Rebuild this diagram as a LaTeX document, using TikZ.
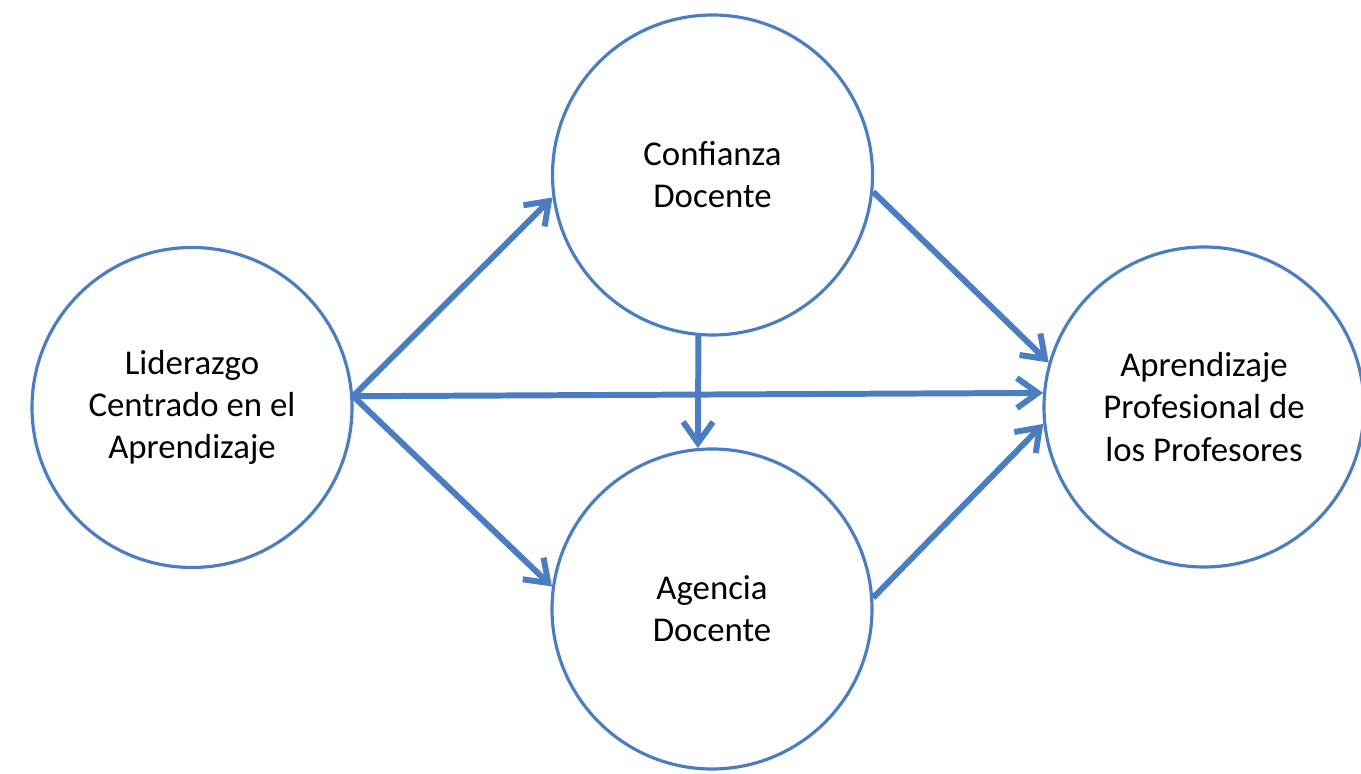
\documentclass[tikz,border=0pt]{standalone}
\usepackage{fontspec}
\setmainfont{Carlito}
\usepackage{xcolor}
\usepackage{tikz}
\usetikzlibrary{positioning,calc,arrows.meta}
\definecolor{lineblue}{RGB}{74,126,192}

\begin{document}
\begin{tikzpicture}[circ/.style={circle, draw=lineblue, line width=1.8pt, minimum size=6.4cm, inner sep=0pt, align=center, font=\fontsize{19.8}{24}\selectfont},
    arr/.style={draw=lineblue, line width=3.4pt, -{Straight Barb[length=0.42cm, width=0.6cm]}}]
    \useasboundingbox (0,0) rectangle (27.22,15.48);
    \node [circ] (lid) at (3.84,7.33) {Liderazgo\\Centrado en el\\Aprendizaje};
    \node [circ] (conf) at (14.25,11.98) {Confianza\\Docente};
    \node [circ] (agen) at (14.24,3.30) {Agencia\\Docente};
    \node [circ] (apr) at (24.08,7.34) {Aprendizaje\\Profesional de\\los Profesores};

    \draw [arr] (lid.4.5) -- (conf.188);
    \draw [arr] (lid.4.5) -- (agen.172);
    \draw [arr] (lid.4.5) -- (apr.175.5);
    \draw [arr] (conf.265) -- (agen.95);
    \draw [arr] (conf.-6) -- (apr.164);
    \draw [arr] (agen.4) -- (apr.186.5);
\end{tikzpicture}
\end{document}
